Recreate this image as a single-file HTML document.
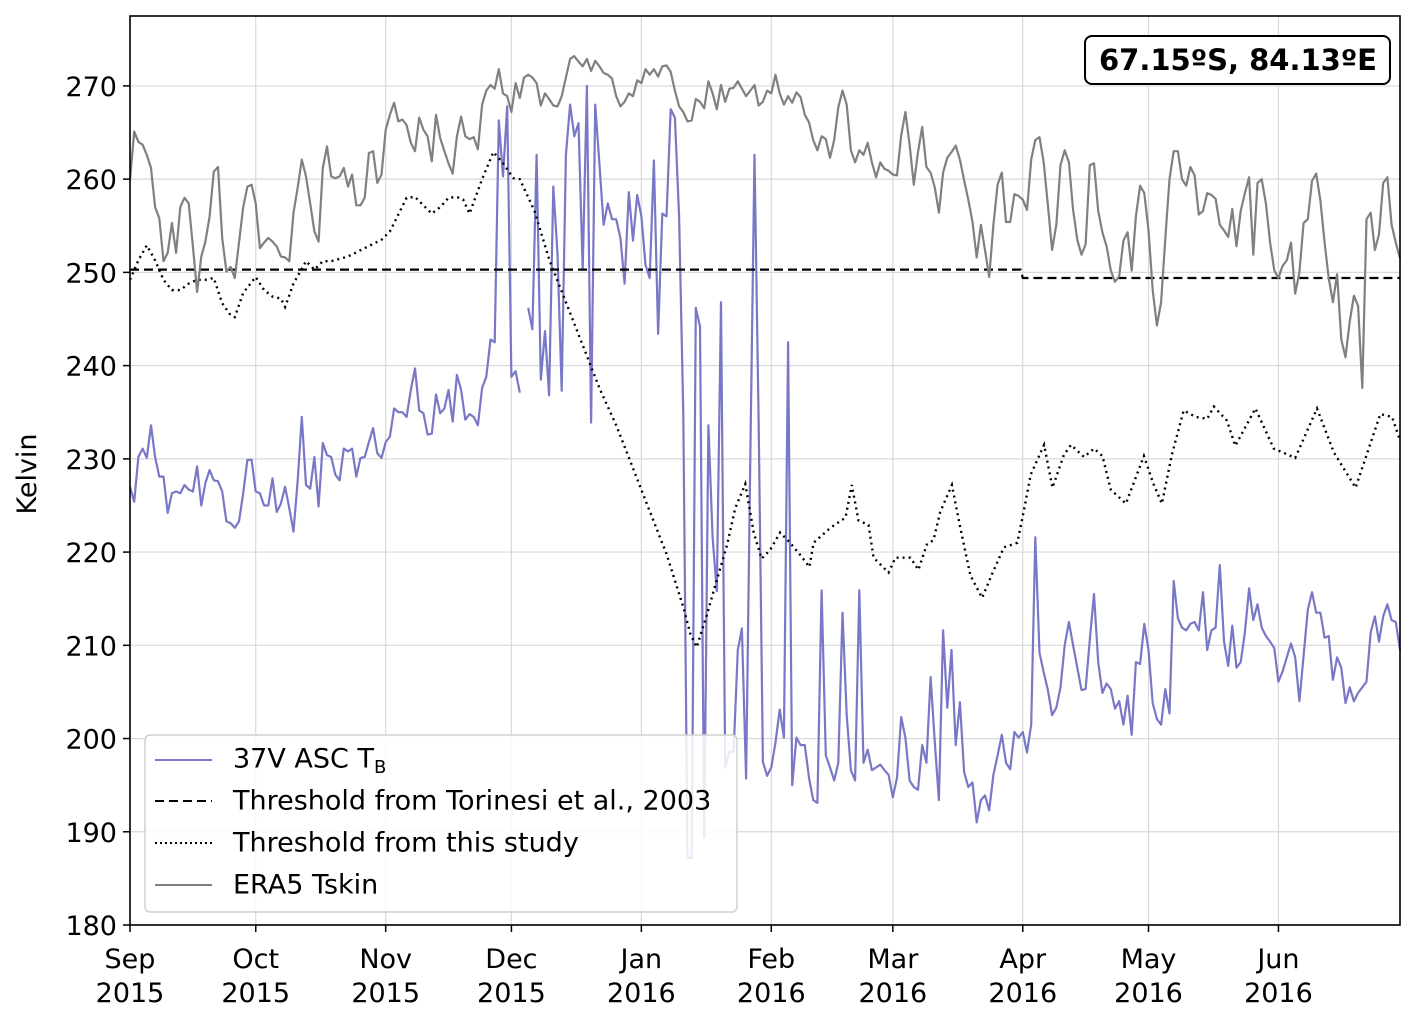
<!DOCTYPE html>
<html><head><meta charset="utf-8">
<style>
html,body{margin:0;padding:0;background:#fff;}
svg{display:block;font-family:"DejaVu Sans","Liberation Sans",sans-serif;}
</style></head>
<body>
<svg id="chart" width="1417" height="1016" viewBox="0 0 1417 1016" xmlns="http://www.w3.org/2000/svg">
  <rect x="0" y="0" width="1417" height="1016" fill="#fff"/>
  <g id="grid"></g>
  <g id="series"></g>
  <rect x="130" y="16" width="1270" height="909" fill="none" stroke="#000" stroke-width="1.6"/>
  <g id="axes"></g>
  <text x="36" y="474" font-size="27" text-anchor="middle" transform="rotate(-90 36 474)">Kelvin</text>
  <g>
    <rect x="1085" y="36" width="305" height="48" rx="7" fill="#fff" stroke="#000" stroke-width="2"/>
    <text x="1238" y="70" font-size="29" font-weight="bold" text-anchor="middle">67.15ºS, 84.13ºE</text>
  </g>
  <g>
    <rect x="145" y="735" width="592" height="177" rx="5" fill="#fff" fill-opacity="0.85" stroke="#d0d0d0" stroke-width="1.5"/>
    <g>
      <line x1="155" y1="760" x2="212" y2="760" stroke="#7878c6" stroke-width="2"/>
      <text x="233" y="760" font-size="27" dominant-baseline="middle">37V ASC T<tspan font-size="18" dy="8">B</tspan></text>
    </g>
    <g>
      <line x1="155" y1="801" x2="212" y2="801" stroke="#000" stroke-width="2" stroke-dasharray="9 5"/>
      <text x="233" y="802" font-size="27" dominant-baseline="middle">Threshold from Torinesi et al., 2003</text>
    </g>
    <g>
      <line x1="155" y1="843" x2="212" y2="843" stroke="#000" stroke-width="2" stroke-dasharray="2 3"/>
      <text x="233" y="844" font-size="27" dominant-baseline="middle">Threshold from this study</text>
    </g>
    <g>
      <line x1="155" y1="885" x2="212" y2="885" stroke="#808080" stroke-width="2"/>
      <text x="233" y="886" font-size="27" dominant-baseline="middle">ERA5 Tskin</text>
    </g>
  </g>
</svg>
<script>
// ---- data ----
const monthLabels = ["Sep","Oct","Nov","Dec","Jan","Feb","Mar","Apr","May","Jun"];
const yearLabels = ["2015","2015","2015","2015","2016","2016","2016","2016","2016","2016"];
const monthDays = [0,30,61,91,122,153,182,213,243,274];
const yTicks = [180,190,200,210,220,230,240,250,260,270];

// ERA5 Tskin, daily from 1 Sep 2015
const era5 = [259.9,265.1,264,263.7,262.6,261.2,257,255.8,251.2,252.1,
255.3,252.1,257,258,257.4,252.8,247.9,251.7,253.3,256,
260.8,261.3,253.7,250.1,250.6,249.4,253.2,257,259.2,259.4,
257.4,252.6,253.2,253.7,253.3,252.8,251.7,251.6,251.2,256.4,
259.1,262.1,260.3,257.4,254.4,253.3,261.2,263.5,260.3,260.1,
260.3,261.2,259.2,260.5,257.2,257.2,258,262.8,263,259.6,
260.5,265.3,266.9,268.2,266.2,266.4,265.8,263.9,263,266.6,
265.3,264.6,261.9,266.9,264.4,263,261.7,260.6,264.6,266.7,
264.6,264.3,264.5,263.2,268,269.5,270.1,269.7,271.8,269.2,
268.9,267.2,270.3,268.7,270.9,271.2,270.9,270.3,267.9,269.2,
268.6,267.9,267.8,268.9,270.9,272.9,273.2,272.6,272.1,272.9,
271.6,272.7,272.1,271.4,271.2,270.8,268.9,267.8,268.3,269.2,
268.9,270.6,270.3,271.8,271.2,271.8,271,272.1,272.2,271.5,
269.5,267.8,267.2,266.2,266.3,268.6,268.3,267.6,270.5,269.2,
267.5,270.1,268.3,269.7,269.8,270.5,269.7,268.9,269.5,270.1,
267.9,268.3,269.5,269.2,271.2,269.2,
268,268.9,268.2,269.3,268.8,266.9,266.1,264.2,263.1,264.6,
264.3,262.3,264.2,267.7,269.5,268,263.1,261.8,263.1,262.6,
263.9,261.8,260.2,261.8,261.1,260.9,260.5,260.4,264.7,267.2,
263.7,259.4,262.9,265.6,261.3,260.7,259.1,256.4,260.7,262.3,
262.9,263.6,262.1,259.9,257.8,255.4,251.6,255.1,252.4,249.5,
255.1,259.4,260.7,255.4,255.4,258.4,258.2,257.8,256.7,262.1,
264.2,264.5,261.8,257.2,252.4,255.1,261.5,263.1,261.8,256.7,
253.5,251.9,253,261.5,
261.7,256.6,254.3,252.8,250.2,249,249.6,253.4,254.3,250.2,
256,259.3,258.5,254.5,248.1,244.3,246.8,253.6,260,263,
263,260,259.3,261.3,260.4,256.2,256.6,258.5,258.3,257.9,
255.1,254.5,253.8,256.8,252.8,256.6,258.5,260.2,251.9,259.6,
260,257.4,253.2,250.2,249.4,250.7,251.3,253.2,247.7,250,
255.3,255.7,259.8,260.6,257.7,253.2,249.4,246.8,249.8,242.8,
240.9,244.7,247.5,246.4,237.6,255.7,256.4,252.4,254.1,259.6,
260.2,255.1,253.2,251.5];

// 37V ASC TB, daily from 1 Sep 2015 (null = missing)
const tb37v = [227,225.4,230.2,231.1,230.1,233.6,230.2,228.1,228.1,224.2,
226.3,226.5,226.3,227.2,226.7,226.5,229.2,225,227.4,228.8,
227.7,227.6,226.5,223.3,223.1,222.6,223.3,226.3,229.9,229.9,
226.5,226.3,225,225,227.9,224.3,225.2,227,224.7,222.2,
227.7,234.5,227.2,226.8,230.2,224.9,231.7,230.4,230.2,228.3,
227.7,231.1,230.8,231.1,228.1,230.1,230.2,231.8,233.3,230.6,
230.1,231.8,232.4,235.4,235,235,234.5,237.4,239.7,235.2,
234.9,232.6,232.7,236.9,234.9,235.4,237.4,234,239,237.4,
234.2,234.8,234.5,233.6,237.6,238.8,242.8,242.5,266.3,260.3,
267.8,238.8,239.4,237.1,null,246.2,243.9,262.6,238.5,243.7,
236.8,259.2,252,237.3,262.6,268,264.6,266,250.3,270,
233.9,268,261.7,255.1,257.4,255.7,255.7,253.7,248.8,258.6,
253.4,258.3,256,250.8,249.4,262,243.4,256.3,256,267.5,
266.6,256,234.8,187.2,187.2,246.2,244.2,189.4,233.6,221.6,
215.8,246.8,196.9,198.6,198.6,209.5,211.8,195.7,230,262.6,
233.6,197.5,196,
196.9,199.6,203.1,200.1,242.5,195,200.1,199.3,199.3,195.8,
193.4,193.1,215.9,198.2,196.9,195.5,197.4,213.5,202.5,196.6,
195.5,215.9,197.4,198.8,196.6,196.9,197.2,196.6,196.1,193.7,
195.8,202.3,200.1,195.5,194.8,194.5,199.3,197.4,206.6,199.6,
193.4,211.6,203.3,209.5,199.3,203.9,196.4,194.8,195.3,191,
193.4,193.9,192.3,196.1,198.2,200.4,197.4,196.7,200.7,200.1,
200.7,198.5,201.5,221.6,209.2,207.1,205.2,202.5,203.3,205.5,
210,212.5,210,207.6,205.2,205.3,210.6,
215.5,208.2,204.9,205.9,205.3,203.2,204,201.5,204.6,200.4,
208.2,208,212.3,209.5,203.8,202.1,201.5,205.3,202.7,216.9,
212.9,211.9,211.6,212.3,212.5,211.6,215.7,209.5,211.6,211.9,
218.6,210.4,207.8,212.1,207.6,208.2,211.4,216.1,212.7,214.4,
211.9,211,210.4,209.7,206.1,207.2,208.7,210.2,208.7,204,
208.9,213.8,215.7,213.5,213.5,210.8,211,206.3,208.7,207.6,
203.8,205.5,204,204.9,205.5,206.1,211.4,213.1,210.4,213.1,
214.4,212.7,212.5,209.5];

// Threshold from this study (day since 1 Sep 2015, value)
const studyDays = [0,2,4,6,8,10,12,14,16,18,20,22,24,25,27,30,32,34,36,37,
39,42,44,46,48,52,56,60,62,64,66,68,70,72,74,76,78,79.5,
81,84,86.7,89,91.5,93,96.5,100,104,108,112,116,120,124,128,132,133.7,135.2,137.6,140,142.4,144.4,146.8,148.8,150.7,
152.7,155.1,157.5,159.9,162.1,163.1,167.1,170.7,172.2,173.8,176.2,177.4,181,182.6,186.2,188.1,190.1,191.7,193.3,196.1,198.1,200.5,203.3,206.1,208.5,211.7,213.2,214.9,218.1,220.1,222.8,224.5,227.6,
230,232,234,237.6,241.9,244.2,246.2,248.6,251.4,254.2,257,258.6,261.7,263.7,268.5,272.9,278,283.2,287.2,292.4,298.3,301.1,303];
const studyValues = [249.2,251.3,252.9,251.3,249.2,248.1,248.1,248.8,249.2,249.2,249.4,246.7,245.4,245.2,247.8,249.5,248.1,247.4,247.2,246.3,
248.8,251.2,250.3,251.2,251.2,251.7,252.6,253.5,254.4,256.2,258,258.1,257.2,256.3,257,258,258.1,257.8,
256.3,260,262.9,261.7,260.1,260,256.6,251.4,246.8,242.2,237.6,233.6,229,224.4,219.8,214.1,211.2,209.8,213.2,217,220.7,224.7,227.3,222.1,219.3,
220.2,222.1,221,219.7,218.4,221,222.6,223.7,227.2,223.4,222.9,219.4,217.8,219.4,219.4,218.1,220.8,221.3,224.3,227.2,222.6,217.5,215.1,218.1,220.5,221,224.3,228.3,231.5,226.9,230.4,231.5,230.2,
231.1,230.3,226.7,225.2,230.3,227.3,225.2,230.5,235.2,234.5,234.3,235.6,234.1,231.4,235.4,231.1,230.1,235.4,230.7,226.9,234.8,234.5,232];

// Torinesi et al. 2003 threshold (piecewise constant)
const torinesiDays = [0,212.5,213,303];
const torinesiValues = [250.3,250.3,249.4,249.4];

// ---- scales ----
const X0=130, X1=1400, Y0=925, Y1=16;
const dayMin=0, dayMax=303, vMin=180, vMax=277.5;
function xs(d){ return X0 + (d-dayMin)/(dayMax-dayMin)*(X1-X0); }
function ys(v){ return Y0 - (v-vMin)/(vMax-vMin)*(Y0-Y1); }

const NS="http://www.w3.org/2000/svg";
function mk(tag, attrs, parent){
  const el=document.createElementNS(NS,tag);
  for(const k in attrs) el.setAttribute(k, attrs[k]);
  parent.appendChild(el);
  return el;
}
const grid=document.getElementById('grid');
const axes=document.getElementById('axes');
const series=document.getElementById('series');

yTicks.forEach(v=>{
  const y=ys(v);
  const g=mk('line',{x1:X0,x2:X1,y1:y,y2:y,stroke:'#d9d9d9','stroke-width':1.2},grid);
  
  
  const t=mk('line',{x1:X0-7,x2:X0,y1:y,y2:y,stroke:'#000','stroke-width':1.5},axes);
  
  
  const lbl=mk('text',{x:X0-13,y:y+10,'font-size':27,'text-anchor':'end'},axes);
  lbl.textContent=String(v);
  
  
});
monthDays.forEach((d,i)=>{
  const x=xs(d);
  const g=mk('line',{x1:x,x2:x,y1:Y1,y2:Y0,stroke:'#d9d9d9','stroke-width':1.2},grid);
  
  
  const t=mk('line',{x1:x,x2:x,y1:Y0,y2:Y0+7,stroke:'#000','stroke-width':1.5},axes);
  
  
  const l1=mk('text',{x:x,y:968,'font-size':27,'text-anchor':'middle'},axes);
  l1.textContent=monthLabels[i];
  
  
  const l2=mk('text',{x:x,y:1002,'font-size':27,'text-anchor':'middle'},axes);
  l2.textContent=yearLabels[i];
  
  
});

function pathFrom(days, vals){
  let d='', pen=false;
  for(let i=0;i<vals.length;i++){
    if(vals[i]===null){pen=false;continue;}
    d += (pen?'L':'M') + xs(days[i]).toFixed(1) + ' ' + ys(vals[i]).toFixed(1) + ' ';
    pen=true;
  }
  return d;
}
const dailyDaysEra = era5.map((_,i)=>i);
const dailyDaysTb = tb37v.map((_,i)=>i);

const pTb=mk('path',{d:pathFrom(dailyDaysTb,tb37v),fill:'none',stroke:'#7878c6','stroke-width':2.2,'stroke-linejoin':'round'},series);



const pTor=mk('path',{d:pathFrom(torinesiDays,torinesiValues),fill:'none',stroke:'#000','stroke-width':2.2,'stroke-dasharray':'9 5'},series);



const pStudy=mk('path',{d:pathFrom(studyDays,studyValues),fill:'none',stroke:'#000','stroke-width':2.4,'stroke-dasharray':'2 4'},series);



const pEra=mk('path',{d:pathFrom(dailyDaysEra,era5),fill:'none',stroke:'#808080','stroke-width':2.2,'stroke-linejoin':'round'},series);


</script>
</body></html>
